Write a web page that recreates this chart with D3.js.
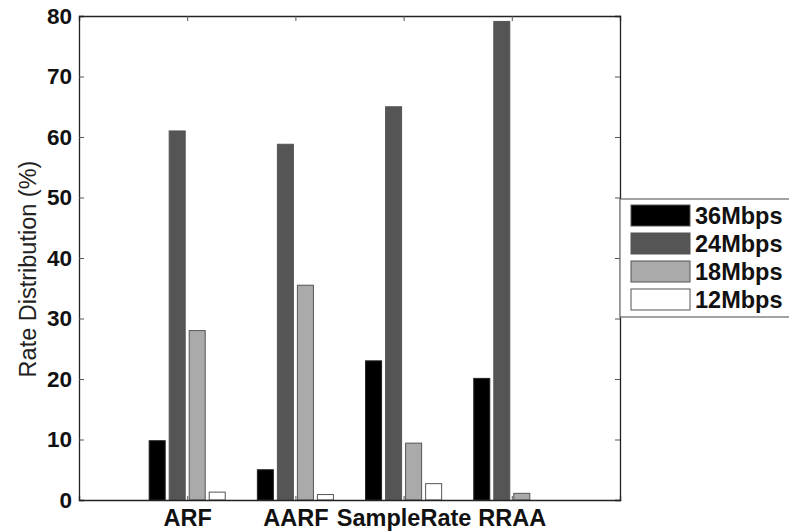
<!DOCTYPE html>
<html>
<head>
<meta charset="utf-8">
<script src="https://cdn.jsdelivr.net/npm/d3@7"></script>
<style>
  body { margin: 0; background: #fff; }
  svg { display: block; font-family: "Liberation Sans", Arial, sans-serif; }
</style>
</head>
<body>
<div id="chart"></div>
<script>
var categories = ["ARF", "AARF", "SampleRate", "RRAA"];
var seriesNames = ["36Mbps", "24Mbps", "18Mbps", "12Mbps"];
var seriesColors = ["#000000", "#555555", "#aaaaaa", "#ffffff"];
var rate36 = [9.8, 5.0, 23.0, 20.1];
var rate24 = [61.0, 58.8, 65.0, 79.1];
var rate18 = [28.0, 35.5, 9.4, 1.1];
var rate12 = [1.3, 0.9, 2.7, 0];
var yTicks = [0, 10, 20, 30, 40, 50, 60, 70, 80];

var series = [rate36, rate24, rate18, rate12];

var width = 789, height = 531,
    plotLeft = 79, plotRight = 620, plotTop = 16, plotBottom = 500;

var svg = d3.select("#chart").append("svg")
    .attr("width", width)
    .attr("height", height);

// matlab style: categories at 1..n, xlim [0, n+1]
var xScale = d3.scaleLinear()
    .domain([0, categories.length + 1])
    .range([plotLeft, plotRight]);

var yScale = d3.scaleLinear()
    .domain([0, 80])
    .range([plotBottom, plotTop]);

var slot = 0.185, barW = 0.148;

var groups = svg.selectAll("g.group")
    .data(categories).enter().append("g")
    .attr("class", "group");

groups.each(function (cat, i) {
    var g = d3.select(this);
    series.forEach(function (vals, s) {
        var cx = i + 1 + (s - 1.5) * slot;
        g.append("rect")
            .attr("x", xScale(cx - barW / 2))
            .attr("width", xScale(cx + barW / 2) - xScale(cx - barW / 2))
            .attr("y", yScale(vals[i]))
            .attr("height", yScale(0) - yScale(vals[i]))
            .attr("fill", seriesColors[s])
            .attr("stroke", s == 0 ? "#222" : "#555")
            .attr("stroke-width", 1);
    });
});

// axes (ticks inward, box around)
var yAxisL = d3.axisLeft(yScale).tickValues(yTicks).tickSize(-5).tickPadding(7);
var yAxisR = d3.axisRight(yScale).tickValues(yTicks).tickSize(-5).tickFormat("");
var xAxisB = d3.axisBottom(xScale).tickValues(d3.range(1, categories.length + 1))
    .tickSize(-4).tickPadding(9).tickFormat(function (d) { return categories[d - 1]; });
var xAxisT = d3.axisTop(xScale).tickValues(d3.range(1, categories.length + 1))
    .tickSize(-5).tickFormat("");

var gY = svg.append("g").attr("transform", "translate(" + plotLeft + ",0)").call(yAxisL);
svg.append("g").attr("transform", "translate(" + plotRight + ",0)").call(yAxisR);
var gX = svg.append("g").attr("transform", "translate(0," + plotBottom + ")").call(xAxisB);
svg.append("g").attr("transform", "translate(0," + plotTop + ")").call(xAxisT);

svg.selectAll(".domain").attr("stroke", "#222").attr("stroke-width", 1.3);
svg.selectAll(".tick line").attr("stroke", "#555");

gY.selectAll("text")
    .attr("font-size", 22.5).attr("font-weight", "bold").attr("fill", "#111")
    .attr("font-family", "Liberation Sans, Arial, sans-serif");
gX.selectAll("text")
    .attr("font-size", 23.5).attr("font-weight", "bold").attr("fill", "#111")
    .attr("font-family", "Liberation Sans, Arial, sans-serif");

svg.append("text")
    .attr("transform", "translate(36,269) rotate(-90)")
    .attr("text-anchor", "middle")
    .attr("font-size", 23.5)
    .attr("fill", "#222")
    .text("Rate Distribution (%)");

// legend
var legend = svg.append("g").attr("class", "legend");
legend.append("rect")
    .attr("x", 620).attr("y", 199)
    .attr("width", 200).attr("height", 118)
    .attr("fill", "#fff").attr("stroke", "#666").attr("stroke-width", 1.2);

var item = legend.selectAll("g.item")
    .data(seriesNames).enter().append("g")
    .attr("class", "item")
    .attr("transform", function (d, i) { return "translate(631," + (205 + i * 28) + ")"; });

item.append("rect")
    .attr("width", 59).attr("height", 21)
    .attr("fill", function (d, i) { return seriesColors[i]; })
    .attr("stroke", "#555");

item.append("text")
    .attr("x", 64).attr("y", 19)
    .attr("font-size", 23.5).attr("font-weight", "bold").attr("fill", "#111")
    .text(function (d) { return d; });
</script>
</body>
</html>
